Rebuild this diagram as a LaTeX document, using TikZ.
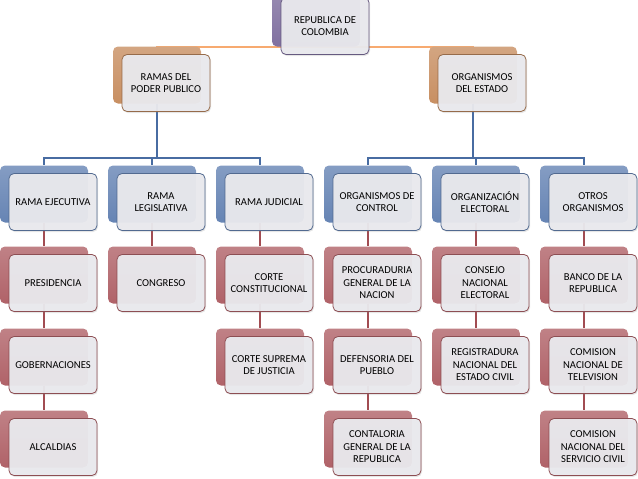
\documentclass[tikz,border=0pt]{standalone}
\usepackage{fontspec}
\setmainfont{Carlito}
\usetikzlibrary{calc,positioning,backgrounds,shadows}

\definecolor{purplebk}{RGB}{128,112,160}
\definecolor{tanbk}{RGB}{200,143,98}
\definecolor{bluebk}{RGB}{102,132,180}
\definecolor{redbk}{RGB}{176,98,104}
\definecolor{orangeln}{RGB}{247,170,112}
\definecolor{blueln}{RGB}{72,108,162}
\definecolor{redln}{RGB}{162,76,82}
\definecolor{frontfill}{RGB}{234,234,238}

\begin{document}
\begin{tikzpicture}[x=1pt,y=-1pt,
    backbox/.style={rounded corners=5pt,minimum width=88pt,minimum height=57pt,
                    inner sep=0pt},
    frontbox/.style={fill=frontfill,fill opacity=0.95,text opacity=1,
                     rounded corners=5pt,line width=0.8pt,
                     minimum width=88pt,minimum height=57pt,
                     font=\fontsize{10.6}{12.5}\selectfont,text=black,
                     align=center,inner sep=2pt,
                     drop shadow={opacity=0.2,shadow xshift=1pt,shadow yshift=-1.5pt}},
    top/.style={frontbox,draw=purplebk!80!black},
    ramas/.style={frontbox,draw=tanbk!75!black},
    rama/.style={frontbox,draw=bluebk!80!black},
    hoja/.style={frontbox,draw=redbk!80!black},
    link/.style={line width=1.6pt},
]

\useasboundingbox (0,0) rectangle (638,479);

% ---- Level 1: republica ---------------------------------------------------
\node[backbox,top color=purplebk!80!white,bottom color=purplebk] (rep-b) at (316,18) {};
\node[top] (rep) at ($(rep-b)+(9,8)$) {REPUBLICA DE\\ COLOMBIA};

% ---- Level 2: ramas / organismos -------------------------------------------
\node[backbox,top color=tanbk!80!white,bottom color=tanbk] (ramas-b) at (157,75) {};
\node[ramas] (ramas) at ($(ramas-b)+(9,8)$) {RAMAS DEL\\ PODER PUBLICO};

\node[backbox,top color=tanbk!80!white,bottom color=tanbk] (org-b) at (473,75) {};
\node[ramas] (org) at ($(org-b)+(9,8)$) {ORGANISMOS\\ DEL ESTADO};

% ---- Level 3: branches -----------------------------------------------------
\foreach \n/\x/\t in {ejec/44/{RAMA EJECUTIVA},
                      legis/152/{RAMA\\ LEGISLATIVA},
                      judi/260/{RAMA JUDICIAL},
                      ctrl/368/{ORGANISMOS DE\\ CONTROL},
                      elec/476/{ORGANIZACIÓN\\ ELECTORAL},
                      otros/584/{OTROS\\ ORGANISMOS}}{
    \node[backbox,top color=bluebk!80!white,bottom color=bluebk] (\n-b) at (\x,194) {};
    \node[rama] (\n) at ($(\n-b)+(9,8)$) {\t};
}

% ---- Levels 4 to 6: entities -----------------------------------------------
\foreach \n/\x/\y/\t in {pres/44/275/{PRESIDENCIA},
                         gob/44/357/{GOBERNACIONES},
                         alc/44/439/{ALCALDIAS},
                         cong/152/275/{CONGRESO},
                         corte/260/275/{CORTE\\ CONSTITUCIONAL},
                         supr/260/357/{CORTE SUPREMA\\ DE JUSTICIA},
                         proc/368/275/{PROCURADURIA\\ GENERAL DE LA\\ NACION},
                         defe/368/357/{DEFENSORIA DEL\\ PUEBLO},
                         cont/368/439/{CONTALORIA\\ GENERAL DE LA\\ REPUBLICA},
                         cne/476/275/{CONSEJO\\ NACIONAL\\ ELECTORAL},
                         regi/476/357/{REGISTRADURA\\ NACIONAL DEL\\ ESTADO CIVIL},
                         banco/584/275/{BANCO DE LA\\ REPUBLICA},
                         cntv/584/357/{COMISION\\ NACIONAL DE\\ TELEVISION},
                         cnsc/584/439/{COMISION\\ NACIONAL DEL\\ SERVICIO CIVIL}}{
    \node[backbox,top color=redbk!80!white,bottom color=redbk] (\n-b) at (\x,\y) {};
    \node[hoja] (\n) at ($(\n-b)+(9,8)$) {\t};
}

% ---- Connectors (behind the boxes) -----------------------------------------
\begin{pgfonlayer}{background}
\draw[link,orangeln] (rep-b.south) -| (ramas-b.north);
\draw[link,orangeln] (rep-b.south) -| (org-b.north);

\foreach \c in {ejec,legis,judi}
    \draw[link,blueln] (ramas-b.south) -- ++(0,54) -| (\c-b.north);
\foreach \c in {ctrl,elec,otros}
    \draw[link,blueln] (org-b.south) -- ++(0,54) -| (\c-b.north);

\foreach \a/\b in {ejec/pres, pres/gob, gob/alc, legis/cong, judi/corte,
                   corte/supr, ctrl/proc, proc/defe, defe/cont, elec/cne,
                   cne/regi, otros/banco, banco/cntv, cntv/cnsc}
    \draw[link,redln] (\a-b.south) -- (\b-b.north);
\end{pgfonlayer}

\end{tikzpicture}
\end{document}
